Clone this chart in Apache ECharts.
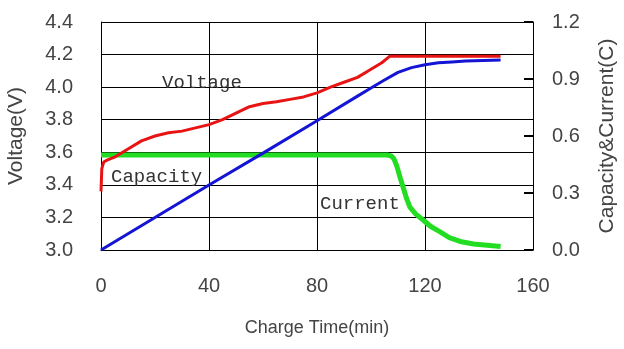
<!DOCTYPE html>
<html><head><meta charset="utf-8">
<script src="https://cdn.jsdelivr.net/npm/echarts@6/dist/echarts.min.js"></script>
<style>html,body{margin:0;padding:0;background:#fff}#c{width:624px;height:349px}</style>
</head><body><div id="c"></div>
<script>
// Voltage (V) vs charge time (min)
const voltageTime = [0, 0.3, 1, 2, 5, 10, 15, 20, 25, 30, 35, 40, 45, 50, 55, 60, 65, 70, 75, 80, 85, 90, 95, 100, 104, 107, 120, 135, 148];
const voltageVals = [3.36, 3.50, 3.54, 3.55, 3.57, 3.62, 3.67, 3.70, 3.72, 3.73, 3.75, 3.77, 3.80, 3.84, 3.88, 3.90, 3.91, 3.925, 3.94, 3.965, 4.00, 4.03, 4.06, 4.11, 4.15, 4.19, 4.19, 4.19, 4.19];
// Capacity (C) vs charge time
const capacityTime = [0, 20, 40, 60, 80, 95, 100, 105, 110, 115, 120, 125, 130, 135, 148];
const capacityVals = [0, 0.171, 0.342, 0.51, 0.68, 0.81, 0.853, 0.895, 0.935, 0.96, 0.975, 0.985, 0.99, 0.995, 1.0];
// Current (C) vs charge time
const currentTime = [0, 20, 40, 60, 80, 100, 106, 107.5, 108.5, 109.6, 110.8, 111.9, 113.2, 114.4, 116.5, 119.3, 122, 125.6, 129, 133, 138, 143, 148];
const currentVals = [0.5, 0.5, 0.5, 0.5, 0.5, 0.5, 0.5, 0.495, 0.48, 0.44, 0.38, 0.33, 0.27, 0.226, 0.19, 0.158, 0.125, 0.095, 0.065, 0.045, 0.032, 0.025, 0.018];
const xTicks = [0, 40, 80, 120, 160];
const leftTicks = [3.0, 3.2, 3.4, 3.6, 3.8, 4.0, 4.2, 4.4];
const rightTicks = [0.0, 0.3, 0.6, 0.9, 1.2];

const zip = (a, b) => a.map((t, i) => [t, b[i]]);
const chart = echarts.init(document.getElementById('c'), null, {renderer: 'canvas'});
const lab = {color: '#444', fontFamily: 'Liberation Sans, Arial', fontSize: 20};
const ann = {fill: '#333', font: '19px "Liberation Mono", monospace'};
chart.setOption({
  animation: false,
  backgroundColor: '#fff',
  grid: {left: 101, right: 91, top: 22, bottom: 99, containLabel: false, outerBoundsMode: 'none'},
  xAxis: {
    type: 'value', min: xTicks[0], max: xTicks[xTicks.length - 1], interval: 40,
    name: 'Charge Time(min)', nameLocation: 'middle', nameGap: 69,
    nameTextStyle: {color: '#444', fontFamily: 'Liberation Sans, Arial', fontSize: 18},
    axisLine: {lineStyle: {color: '#000', width: 1}},
    axisTick: {show: false},
    axisLabel: Object.assign({margin: 26}, lab),
    splitLine: {show: true, lineStyle: {color: '#000', width: 1}}
  },
  yAxis: [{
    type: 'value', min: leftTicks[0], max: leftTicks[leftTicks.length - 1], interval: 0.2,
    name: 'Voltage(V)', nameLocation: 'middle', nameGap: 74, nameRotate: 90,
    nameTextStyle: {color: '#444', fontFamily: 'Liberation Sans, Arial', fontSize: 21},
    axisLine: {show: true, lineStyle: {color: '#000', width: 1}},
    axisTick: {show: false},
    axisLabel: Object.assign({margin: 28, formatter: v => v.toFixed(1)}, lab),
    splitLine: {show: true, lineStyle: {color: '#000', width: 1}}
  }, {
    type: 'value', min: rightTicks[0], max: rightTicks[rightTicks.length - 1], interval: 0.3,
    position: 'right',
    name: 'Capacity&Current(C)', nameLocation: 'middle', nameGap: 64, nameRotate: 90,
    nameTextStyle: {color: '#444', fontFamily: 'Liberation Sans, Arial', fontSize: 21},
    axisLine: {show: true, lineStyle: {color: '#000', width: 1}},
    axisTick: {show: true, inside: true, length: 9, lineStyle: {color: '#000', width: 2}},
    axisLabel: Object.assign({margin: 19, formatter: v => v.toFixed(1)}, lab),
    splitLine: {show: false}
  }],
  series: [
    {type: 'line', yAxisIndex: 1, showSymbol: false, symbol: 'none', data: zip(currentTime, currentVals),
     lineStyle: {color: '#22dd22', width: 5}, z: 3},
    {type: 'line', yAxisIndex: 1, showSymbol: false, symbol: 'none', data: zip(capacityTime, capacityVals),
     lineStyle: {color: '#1414d4', width: 3}, z: 4},
    {type: 'line', yAxisIndex: 0, showSymbol: false, symbol: 'none', data: zip(voltageTime, voltageVals),
     lineStyle: {color: '#e81414', width: 3}, z: 5}
  ],
  graphic: [
    {type: 'text', left: 162, top: 73, z: 10, style: Object.assign({text: 'Voltage'}, ann)},
    {type: 'text', left: 111, top: 167, z: 10, style: Object.assign({text: 'Capacity'}, ann)},
    {type: 'text', left: 320, top: 194, z: 10, style: Object.assign({text: 'Current'}, ann)}
  ]
});
</script></body></html>
